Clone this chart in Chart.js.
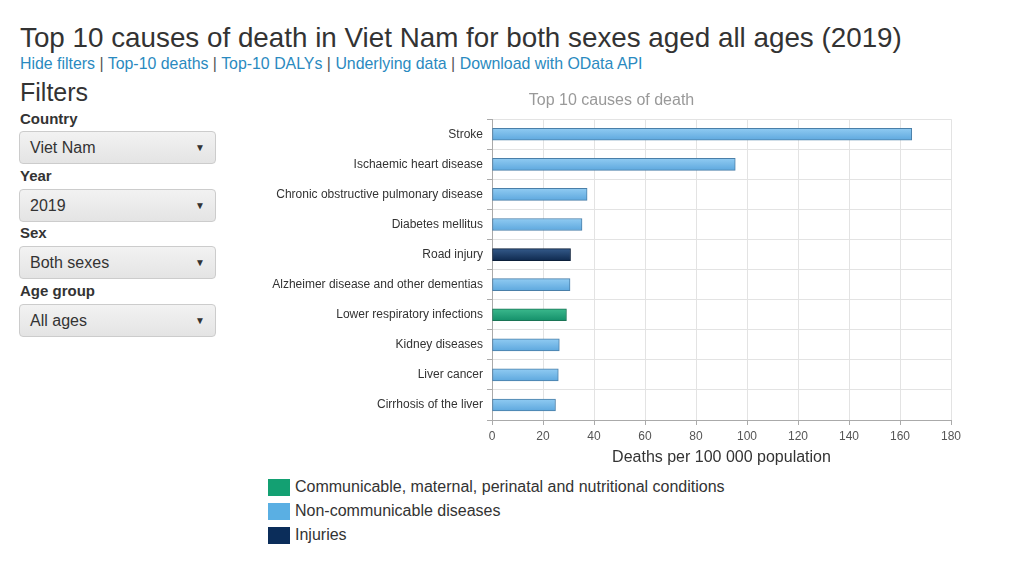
<!DOCTYPE html>
<html>
<head>
<meta charset="utf-8">
<script src="https://cdn.jsdelivr.net/npm/chart.js@4/dist/chart.umd.min.js"></script>
<style>
  body { margin: 0; background: #fff; font-family: "Liberation Sans", Arial, sans-serif; color: #333; width: 1024px; height: 564px; overflow: hidden; position: relative; }
  h1 { position: absolute; left: 20px; top: 22px; margin: 0; font-size: 27.8px; font-weight: normal; color: #333; white-space: nowrap; }
  .links { position: absolute; left: 20px; top: 55px; font-size: 15.9px; color: #555; white-space: nowrap; }
  .links a { color: #2a8ac0; text-decoration: none; }
  .filters-head { position: absolute; left: 20px; top: 78px; font-size: 25px; color: #333; }
  .flabel { position: absolute; left: 20px; font-size: 15px; font-weight: bold; color: #333; }
  .fbox { position: absolute; left: 19px; width: 197px; height: 33px; border: 1px solid #ccc; border-radius: 4px;
          background: linear-gradient(#f2f2f2, #e4e4e4); box-sizing: border-box; font-size: 16px; line-height: 32px; padding-left: 10px; color: #333; }
  .fbox span { position: absolute; right: 10px; top: 0; font-size: 10px; }
  #wrap { position: absolute; left: 260px; top: 88px; width: 714px; height: 383px; }
  #legend { position: absolute; left: 268px; top: 475px; }
  .lg { height: 24px; display: flex; align-items: center; font-size: 16px; color: #333; }
  .lg i { display: inline-block; width: 22px; height: 17px; margin-right: 5px; }
</style>
</head>
<body>
<h1>Top 10 causes of death in Viet Nam for both sexes aged all ages (2019)</h1>
<div class="links"><a>Hide filters</a> | <a>Top-10 deaths</a> | <a>Top-10 DALYs</a> | <a>Underlying data</a> | <a>Download with OData API</a></div>
<div class="filters-head">Filters</div>
<div class="flabel" style="top:110px">Country</div>
<div class="fbox" style="top:131px">Viet Nam<span>&#9660;</span></div>
<div class="flabel" style="top:167px">Year</div>
<div class="fbox" style="top:189px">2019<span>&#9660;</span></div>
<div class="flabel" style="top:224px">Sex</div>
<div class="fbox" style="top:246px">Both sexes<span>&#9660;</span></div>
<div class="flabel" style="top:282px">Age group</div>
<div class="fbox" style="top:304px">All ages<span>&#9660;</span></div>
<div id="wrap"><canvas id="deathChart"></canvas></div>
<div id="legend"></div>
<script>
const causes = [
  'Stroke',
  'Ischaemic heart disease',
  'Chronic obstructive pulmonary disease',
  'Diabetes mellitus',
  'Road injury',
  'Alzheimer disease and other dementias',
  'Lower respiratory infections',
  'Kidney diseases',
  'Liver cancer',
  'Cirrhosis of the liver',
];
const deathRates = [164.6, 95.4, 37.3, 35.3, 30.8, 30.6, 29.2, 26.4, 26.0, 24.9];
const causeGroups = [1, 1, 1, 1, 2, 1, 0, 1, 1, 1];
const groupNames = [
  'Communicable, maternal, perinatal and nutritional conditions',
  'Non-communicable diseases',
  'Injuries',
];
const xTicks = [0, 20, 40, 60, 80, 100, 120, 140, 160, 180];

// legend swatch, bar gradient top/bottom, bar border
const groupColors = [
  { swatch: '#13a072', top: '#3bb98d', bottom: '#14906a', border: '#1a7455' },
  { swatch: '#5aafe3', top: '#90cbf2', bottom: '#5ea8de', border: '#4a7fa8' },
  { swatch: '#0b2d5a', top: '#345a8a', bottom: '#0f2a4f', border: '#0c1f3a' },
];

function barFill(context) {
  const chart = context.chart;
  const colors = groupColors[causeGroups[context.dataIndex]];
  const yScale = chart.scales.y;
  if (!yScale || !chart.chartArea) {
    return colors.top;
  }
  const y = yScale.getPixelForValue(context.dataIndex);
  const grad = chart.ctx.createLinearGradient(0, y - 6, 0, y + 6);
  grad.addColorStop(0, colors.top);
  grad.addColorStop(1, colors.bottom);
  return grad;
}

function buildLegend() {
  const legendEl = document.getElementById('legend');
  groupNames.forEach((name, idx) => {
    const row = document.createElement('div');
    row.className = 'lg';
    const sw = document.createElement('i');
    sw.style.background = groupColors[idx].swatch;
    row.appendChild(sw);
    row.appendChild(document.createTextNode(name));
    legendEl.appendChild(row);
  });
}

const labelFont = { family: '"Liberation Sans", Arial, sans-serif', size: 12 };

new Chart(document.getElementById('deathChart'), {
  type: 'bar',
  data: {
    labels: causes,
    datasets: [{
      data: deathRates,
      backgroundColor: barFill,
      borderColor: (c) => groupColors[causeGroups[c.dataIndex]].border,
      borderWidth: 1,
      borderSkipped: false,
      barThickness: 12,
    }],
  },
  options: {
    indexAxis: 'y',
    responsive: true,
    maintainAspectRatio: false,
    animation: false,
    layout: { padding: { right: 23, bottom: 0, top: 0, left: 12 } },
    scales: {
      x: {
        min: 0,
        max: 180,
        afterBuildTicks(scale) {
          scale.ticks = xTicks.map((v) => ({ value: v }));
        },
        afterFit(scale) {
          scale.height = 51;
        },
        grid: { color: '#e3e3e3', tickColor: '#aaa', tickLength: 5 },
        border: { color: '#aaa' },
        ticks: { color: '#555', font: labelFont, padding: 4, maxRotation: 0 },
        title: {
          display: true,
          text: 'Deaths per 100 000 population',
          color: '#333',
          font: { family: labelFont.family, size: 16 },
          padding: { top: 2 },
        },
      },
      y: {
        afterFit(scale) {
          scale.width = 220;
        },
        grid: { color: '#e3e3e3', tickColor: '#aaa', tickLength: 5 },
        border: { color: '#aaa' },
        ticks: { color: '#333', font: labelFont, padding: 4, autoSkip: false },
      },
    },
    plugins: {
      legend: { display: false },
      tooltip: { enabled: false },
      title: {
        display: true,
        text: 'Top 10 causes of death',
        color: '#999',
        font: { family: labelFont.family, size: 16, weight: 'normal' },
        padding: { top: 3, bottom: 9 },
      },
    },
  },
});

buildLegend();
</script>
</body>
</html>
